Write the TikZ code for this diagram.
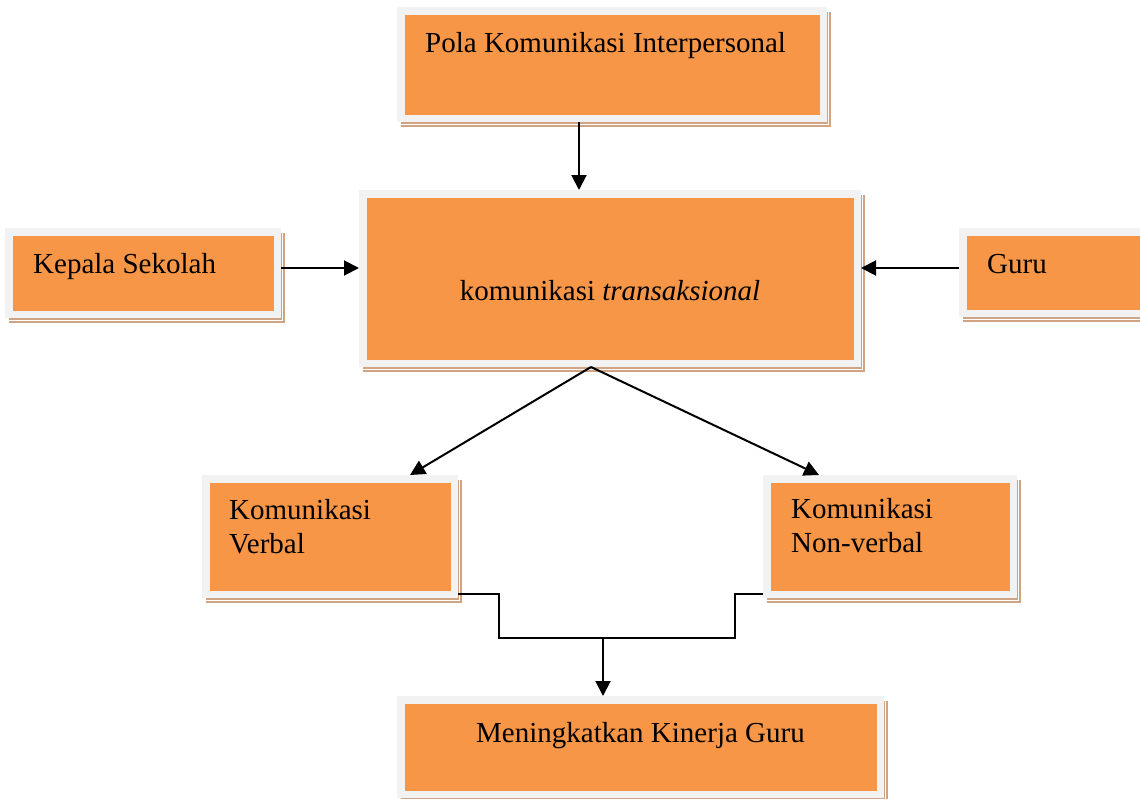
\documentclass[tikz,border=0pt]{standalone}
\usepackage{fontspec}
\setmainfont{Liberation Serif}
\usetikzlibrary{arrows.meta,backgrounds}
\definecolor{boxorange}{HTML}{F79646}
\definecolor{boxgray}{HTML}{F2F2F2}
\definecolor{boxshadow}{HTML}{D0A483}
\tikzset{
  box/.style={draw=boxgray, fill=boxorange, line width=7.5pt, inner sep=0pt, outer sep=3.75pt},
  lbl/.style={font=\fontsize{29}{34.5}\selectfont, inner sep=0pt, anchor=base west},
  conn/.style={line width=2pt, draw=black},
  arr/.style={conn, -{Triangle[length=15pt,width=15pt]}},
}
\newcommand{\mybox}[5]{\node[box, minimum width={#4-#2-7.5}, minimum height={#5-#3-7.5}] (#1) at ({(#2+#4)/2},{(#3+#5)/2}) {};}
\newcommand{\myshadow}[1]{%
  \fill[boxshadow] ([shift={(3.5,5)}]#1.north west) rectangle ([shift={(3.5,5)}]#1.south east);
  \draw[white, line width=0.8pt] ([shift={(1.8,2.8)}]#1.north west) rectangle ([shift={(1.8,2.8)}]#1.south east);}
\begin{document}
\begin{tikzpicture}[x=1pt, y=-1pt]
\path[use as bounding box] (0,0) rectangle (1140,798);
% boxes
\mybox{pola}{397}{7}{827}{122}
\mybox{trans}{359}{190}{861}{367}
\mybox{kepala}{5}{228}{281}{318}
\mybox{guru}{959}{228}{1150}{317}
\mybox{verbal}{202}{475}{458}{598}
\mybox{nonverbal}{763}{475}{1017}{598}
\mybox{mening}{397}{696}{884}{798}
% texts
\node[lbl] (tpola) at (425,52) {Pola Komunikasi Interpersonal};
\node[lbl] (tkepala) at (33,273) {Kepala Sekolah};
\node[lbl] (tguru) at (987,273) {Guru};
\node[lbl, anchor=base] (ttrans) at (610,300) {komunikasi \textit{transaksional}};
\node[lbl] (tverbal) at (229,519) {\begin{tabular}[t]{@{}l@{}}Komunikasi\\Verbal\end{tabular}};
\node[lbl] (tnonverbal) at (791,518) {\begin{tabular}[t]{@{}l@{}}Komunikasi\\Non-verbal\end{tabular}};
\node[lbl] (tmening) at (476,742) {Meningkatkan Kinerja Guru};
% connectors
\draw[arr] ([xshift=-33pt]pola.south) -- ([xshift=-31pt]trans.north);
\coordinate (ka) at ([yshift=5pt]kepala.east);
\draw[arr] (ka) -- (ka -| trans.west);
\coordinate (ga) at ([yshift=4.5pt]guru.west);
\draw[arr] (ga) -- (ga -| trans.east);
\coordinate (apex) at ([xshift=-19pt]trans.south);
\draw[arr] (apex) -- ([xshift=80pt]verbal.north);
\draw[arr] (apex) -- ([xshift=-71pt]nonverbal.north);
\coordinate (va) at ([yshift=4pt]verbal.south east);
\coordinate (nb) at ([yshift=4pt]nonverbal.south west);
\draw[conn] (va) -- ++(41,0) -- ++(0,44) coordinate (jn) -- ++(236,0) -- ++(0,-44) -- (nb);
\coordinate (mt) at ([xshift=-37.5pt]mening.north);
\draw[arr] (mt |- jn) -- (mt);
% background and shadows
\begin{scope}[on background layer]
  \fill[white] (0,0) rectangle (1140,798);
  \myshadow{pola}
  \myshadow{trans}
  \myshadow{kepala}
  \myshadow{guru}
  \myshadow{verbal}
  \myshadow{nonverbal}
  \myshadow{mening}
\end{scope}
\end{tikzpicture}
\end{document}
